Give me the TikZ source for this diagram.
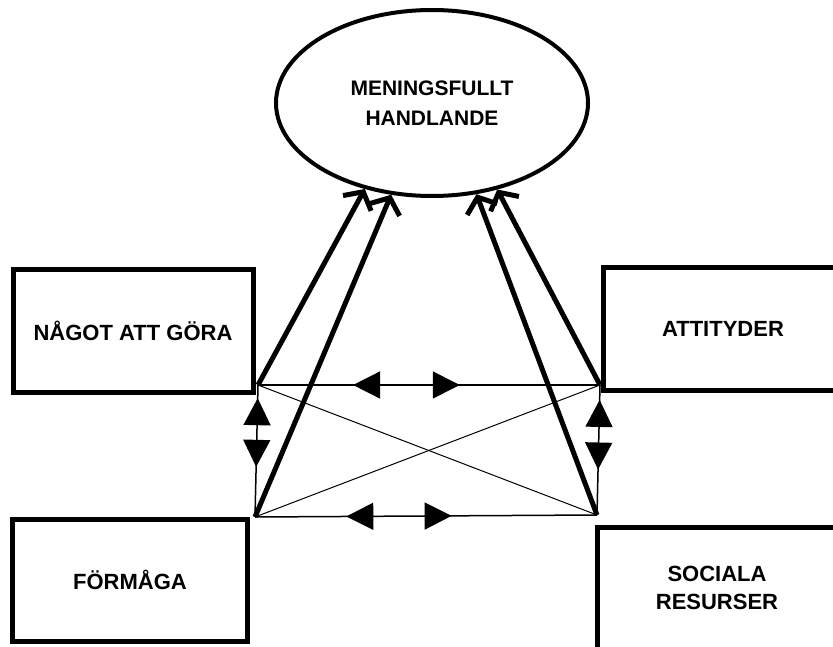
\documentclass[tikz,border=0pt]{standalone}
\usepackage{fontspec}
\setmainfont{Liberation Sans}
\usetikzlibrary{shapes.geometric, arrows.meta, decorations.markings}

\begin{document}
\begin{tikzpicture}[x=1pt,y=-1pt,
  box/.style={rectangle,draw,line width=5pt,minimum width=240pt,minimum height=122pt,align=center,font=\fontsize{22}{28}\selectfont\bfseries},
  goal/.style={ellipse,draw,line width=4pt,minimum width=312pt,minimum height=186pt,align=center,font=\fontsize{21}{30}\selectfont\bfseries},
  pil/.style={line width=5pt,-{Straight Barb[length=13pt,width=32pt]}},
  link/.style={line width=1.5pt},
  cross/.style={line width=1pt},
  bi/.style 2 args={postaction={decorate,decoration={markings,
      mark=at position #1 with {\arrowreversed{Triangle[length=27pt,width=27pt]}},
      mark=at position #2 with {\arrow{Triangle[length=27pt,width=27pt]}}}}}
]
  \useasboundingbox (0,0) rectangle (833,647);
  \fill[white] (0,0) rectangle (833,647);

  \node[goal] (mh)    at (432,103) {MENINGSFULLT\\HANDLANDE};
  \node[box]  (nagot) at (133,331) {NÅGOT ATT GÖRA};
  \node[box]  (attit) at (723,329) {ATTITYDER};
  \node[box,minimum width=235pt] (form) at (130,580) {FÖRMÅGA};
  \node[box]  (soc)   at (717,588) {SOCIALA\\RESURSER};

  \coordinate (ul) at (258,385);
  \coordinate (ur) at (600,385);
  \coordinate (ll) at (255,517);
  \coordinate (lr) at (597,515);

  \draw[link,bi={0.278}{0.59}] (ul) -- (ur);
  \draw[link,bi={0.267}{0.575}] (ll) -- (lr);
  \draw[link,bi={0.10}{0.62}] (ul) -- (ll);
  \draw[link,bi={0.115}{0.65}] (ur) -- (lr);
  \draw[cross] (ul) -- (lr);
  \draw[cross] (ur) -- (ll);

  \draw[pil] (ul) -- (mh.232);
  \draw[pil] (ll) -- (mh.246);
  \draw[pil] (lr) -- (mh.296);
  \draw[pil] (ur) -- (mh.307);
\end{tikzpicture}
\end{document}
